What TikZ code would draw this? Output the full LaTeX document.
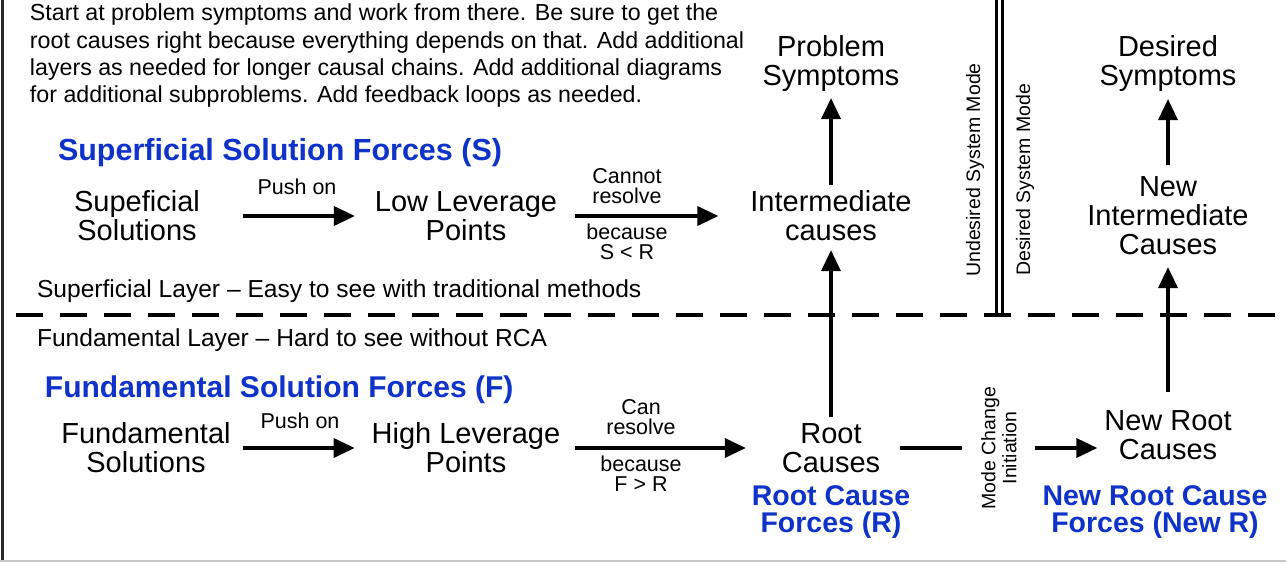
\documentclass[tikz,border=0pt]{standalone}
\usepackage{fontspec}
\setmainfont{Liberation Sans}
\usetikzlibrary{arrows.meta}
\definecolor{forceblue}{RGB}{15,50,200}
\begin{document}
\begin{tikzpicture}[x=1pt,y=-1pt,
  every node/.style={inner sep=0pt, outer sep=0pt},
  concept/.style={font=\fontsize{29}{29}\selectfont, align=center},
  force/.style={font=\fontsize{28.5}{27.5}\selectfont\bfseries, text=forceblue, align=center},
  small/.style={font=\fontsize{21.5}{20}\selectfont, align=center},
  layer/.style={font=\fontsize{24.6}{27}\selectfont, anchor=base west},
  modetext/.style={font=\fontsize{19.5}{21}\selectfont, align=center, rotate=90},
  arr/.style={line width=3.5pt, -{Triangle[length=21pt,width=19pt]}},
  plainline/.style={line width=3.5pt},
]
\useasboundingbox (0,0) rectangle (1286,563);

% frame edges
\draw[line width=2.5pt, black!85] (2.5,0) -- (2.5,561);
\draw[line width=2pt, black!22] (0,560.5) -- (1286,560.5);

% instructions
\node[anchor=north west, align=left, font=\fontsize{23.2}{27.3}\selectfont] (note) at (30,4)
  {Start at problem symptoms and work from there. Be sure to get the\\
   root causes right because everything depends on that. Add additional\\
   layers as needed for longer causal chains. Add additional diagrams\\
   for additional subproblems. Add feedback loops as needed.};

% layer divider and mode divider
\draw[line width=3.5pt, dash pattern=on 27pt off 17pt] (16,315) -- (1286,315);
\draw[line width=3pt] (996.5,0) -- (996.5,316);
\draw[line width=3pt] (1002.5,0) -- (1002.5,316);

% layer captions
\node[layer] (suplayer) at (37,297) {Superficial Layer – Easy to see with traditional methods};
\node[layer] (fundlayer) at (37,346) {Fundamental Layer – Hard to see without RCA};

% causal chain nodes
\node[concept] (prob)   at (831,63)  {Problem\\Symptoms};
\node[concept] (inter)  at (831,216) {Intermediate\\causes};
\node[concept] (root)   at (831,448) {Root\\Causes};
\node[concept] (sup)    at (137,216) {Supeficial\\Solutions};
\node[concept] (low)    at (466,216) {Low Leverage\\Points};
\node[concept] (fund)   at (146,448) {Fundamental\\Solutions};
\node[concept] (high)   at (466,448) {High Leverage\\Points};
\node[concept] (des)    at (1168,63)  {Desired\\Symptoms};
\node[concept] (ninter) at (1168,216) {New\\Intermediate\\Causes};
\node[concept] (nroot)  at (1168,435) {New Root\\Causes};

% force captions
\node[force, anchor=base west, font=\fontsize{30.5}{26}\selectfont\bfseries] (sforce) at (58,160) {Superficial Solution Forces (S)};
\node[force, anchor=base west, font=\fontsize{30}{26}\selectfont\bfseries] (fforce) at (45,397) {Fundamental Solution Forces (F)};
\node[force] (rforce)  at (831,512)  {Root Cause\\Forces (R)};
\node[force] (nrforce) at (1155,512) {New Root Cause\\Forces (New R)};

% arrow labels
\node[small] (push1)  at (297,187) {Push on};
\node[small] (push2)  at (300,421) {Push on};
\node[small] (cannot) at (627,186) {Cannot\\resolve};
\node[small] (bcs1)   at (627,242) {because\\S < R};
\node[small] (can)    at (641,417) {Can\\resolve};
\node[small] (bcs2)   at (641,474) {because\\F > R};

% mode captions
\node[modetext] (undes)   at (975,170)  {Undesired System Mode};
\node[modetext] (desmode) at (1025,180) {Desired System Mode};
\node[modetext] (mchange) at (999,448)  {Mode Change\\Initiation};

% horizontal connectors
\draw[arr, shorten <=43pt, shorten >=20pt] (sup) -- (low);
\draw[arr, shorten <=18pt, shorten >=32pt] (low) -- (inter);
\draw[arr, shorten <=12pt, shorten >=17pt] (fund) -- (high);
\draw[arr, shorten <=15pt, shorten >=36pt] (high) -- (root);
\draw[plainline, shorten <=20pt, shorten >=19pt] (root) -- (mchange);
\draw[arr, shorten <=18pt, shorten >=7pt] (mchange.south) -- (mchange.south -| nroot.west);

% vertical connectors
\draw[arr, shorten <=6pt, shorten >=7pt] (inter) -- (prob);
\draw[arr, shorten <=6pt, shorten >=9pt] (root) -- (inter);
\draw[arr, shorten <=12pt, shorten >=8pt] (ninter) -- (des);
\draw[arr, shorten <=18pt, shorten >=12pt] (nroot) -- (ninter);
\end{tikzpicture}
\end{document}
